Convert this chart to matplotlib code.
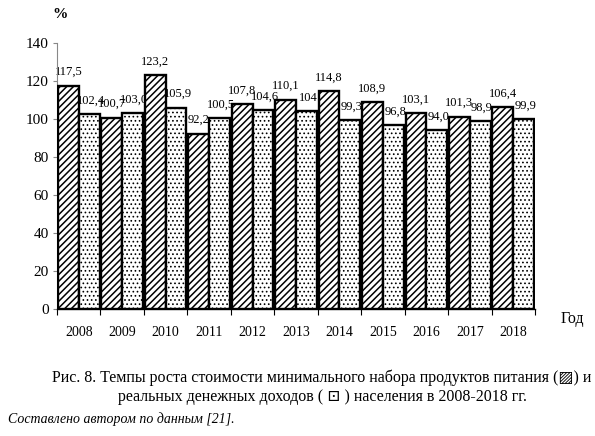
import matplotlib
matplotlib.use("Agg")
import matplotlib.pyplot as plt
import numpy as np

YEARS = ["2008", "2009", "2010", "2011", "2012", "2013", "2014", "2015", "2016", "2017", "2018"]
FOOD = [117.5, 100.7, 123.2, 92.2, 107.8, 110.1, 114.8, 108.9, 103.1, 101.3, 106.4]
INCOME = [102.4, 103.0, 105.9, 100.5, 104.6, 104.0, 99.3, 96.8, 94.0, 98.9, 99.9]
FOOD_LBL = ["117,5", "100,7", "123,2", "92,2", "107,8", "110,1", "114,8", "108,9", "103,1", "101,3", "106,4"]
INCOME_LBL = ["102,4", "103,0", "105,9", "100,5", "104,6", "104", "99,3", "96,8", "94,0", "98,9", "99,9"]
Y_TICKS = [0, 20, 40, 60, 80, 100, 120, 140]

SERIF = ["Liberation Serif", "DejaVu Serif"]
plt.rcParams["font.family"] = SERIF
plt.rcParams["hatch.color"] = "black"

W, H = 595, 436
fig = plt.figure(figsize=(W / 100, H / 100), dpi=100)
ax = fig.add_axes([57 / W, 1 - 309 / H, (535 - 57) / W, (309 - 43) / H])

x = np.arange(len(YEARS))
bw = 0.48
plt.rcParams["hatch.linewidth"] = 1.1
ax.bar(x - bw / 2, FOOD, bw, facecolor="white", edgecolor="black", linewidth=1.7, hatch="/////", zorder=3)
plt.rcParams["hatch.linewidth"] = 0.7
ax.bar(x + bw / 2, INCOME, bw, facecolor="white", edgecolor="black", linewidth=1.7, hatch="....", zorder=3)

# labels sit under the bars, as in the original where neighbours clip them
for xi, v, s in zip(x - bw / 2, FOOD, FOOD_LBL):
    ax.text(xi, v + 4, s, ha="center", va="bottom", fontsize=9, zorder=2)
for xi, v, s in zip(x + bw / 2 + 0.04, INCOME, INCOME_LBL):
    ax.text(xi, v + 4, s, ha="center", va="bottom", fontsize=9, zorder=2)

ax.set_xlim(-0.5, len(YEARS) - 0.5)
ax.set_ylim(0, 140)
ax.set_yticks(Y_TICKS)
ax.tick_params(axis="y", labelsize=11, length=3, width=0.8, color="#888888", pad=3)
ax.set_xticks(x)
ax.set_xticklabels(YEARS, fontsize=10)
ax.set_xticks(np.arange(-0.5, len(YEARS)), minor=True)
ax.tick_params(axis="x", which="major", length=0, pad=12)
ax.tick_params(axis="x", which="minor", length=4, width=0.8)
ax.spines["top"].set_visible(False)
ax.spines["right"].set_visible(False)
ax.spines["left"].set_color("#888888")
ax.spines["left"].set_linewidth(0.8)
ax.spines["bottom"].set_linewidth(1.0)

fig.text(60 / W, 1 - 14 / H, "%", fontsize=11, ha="center", va="center", weight="bold")
fig.text(572 / W, 1 - 319 / H, "Год", fontsize=11.5, ha="center", va="center")

fig.text(322 / W, 1 - 378 / H,
         "Рис. 8. Темпы роста стоимости минимального набора продуктов питания (▨) и",
         fontsize=11.5, ha="center", va="center", family=SERIF + ["DejaVu Sans"])
fig.text(322 / W, 1 - 397 / H,
         "реальных денежных доходов ( ⊡ ) населения в 2008-2018 гг.",
         fontsize=11.5, ha="center", va="center", family=SERIF + ["DejaVu Sans"])
fig.text(8 / W, 1 - 419 / H, "Составлено автором по данным [21].",
         fontsize=10, ha="left", va="center", style="italic")

fig.savefig("out.png", dpi=100)
